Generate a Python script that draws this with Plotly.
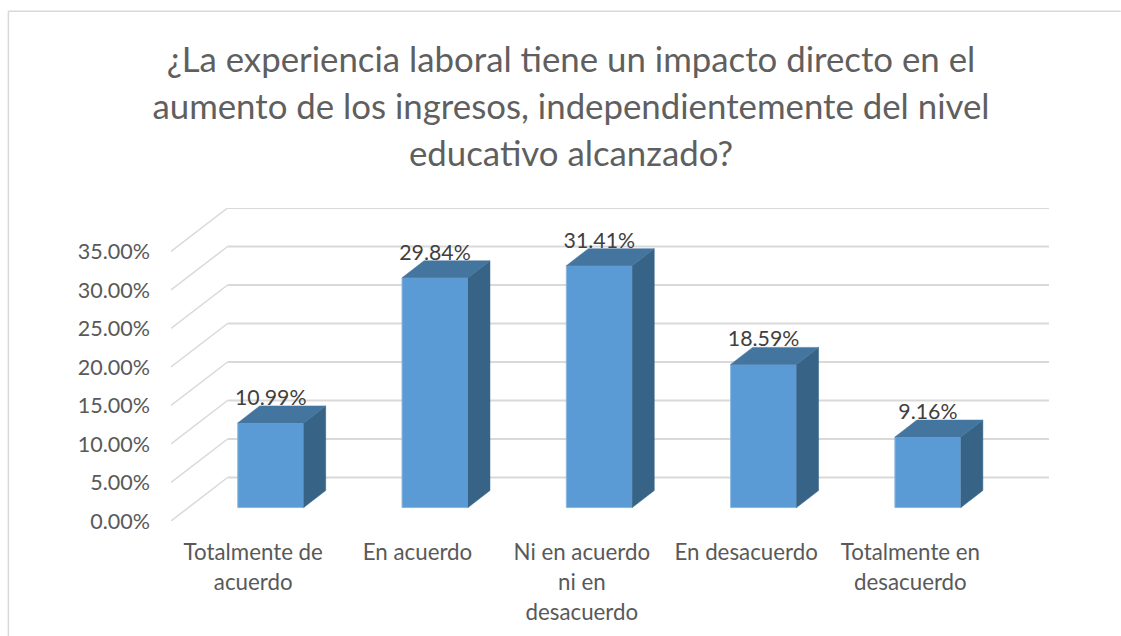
import plotly.graph_objects as go

categories = ["Totalmente de<br>acuerdo", "En acuerdo", "Ni en acuerdo<br>ni en<br>desacuerdo",
              "En desacuerdo", "Totalmente en<br>desacuerdo"]
values = [10.99, 29.84, 31.41, 18.59, 9.16]
y_ticks = [0, 5, 10, 15, 20, 25, 30, 35]
y_tick_labels = ["0.00%", "5.00%", "10.00%", "15.00%", "20.00%", "25.00%", "30.00%", "35.00%"]
title_lines = ["¿La experiencia laboral tiene un impacto directo en el",
               "aumento de los ingresos, independientemente del nivel",
               "educativo alcanzado?"]

W, H = 1121, 636
L, R, T, B = 170.7, 1049.3, 208.3, 520.7   # plot area in pixels
PX_PER_CAT = 164.4
PX_PER_PCT = 7.686
X0 = 270.5                                  # pixel of the first bar centre

def xu(px):
    return px / PX_PER_CAT

def yu(px):
    return px / PX_PER_PCT

x_range = [xu(L - X0), xu(R - X0)]
y_range = [0, yu(B - T)]
wall_dx, wall_dy = xu(56.6), yu(43.4)       # depth of the floor
bar_base = yu(13.4)
bar_dx, bar_dy = xu(22), yu(17)
bar_w = xu(66)
label_gap = yu(23.2)
tick_shift = xu(-17.5)

GRID = "#d9d9d9"
FRONT = "#5b9bd5"
SIDE = "#376387"
TOP = "#44759f"
FONT = "Lato"

fig = go.Figure()

xs = list(range(len(values)))
fig.add_trace(go.Bar(x=xs, y=values, base=bar_base, width=bar_w,
                     marker=dict(color=FRONT, line=dict(color="#8ab6e0", width=1)),
                     hoverinfo="skip", showlegend=False))

for i, v in zip(xs, values):
    xr = i + bar_w / 2
    xl = i - bar_w / 2
    top = bar_base + v
    fig.add_trace(go.Scatter(
        x=[xr, xr + bar_dx, xr + bar_dx, xr, xr],
        y=[bar_base, bar_base + bar_dy, top + bar_dy, top, bar_base],
        mode="lines", fill="toself", fillcolor=SIDE, line=dict(color=SIDE, width=0.5),
        hoverinfo="skip", showlegend=False))
    fig.add_trace(go.Scatter(
        x=[xl, xr, xr + bar_dx, xl + bar_dx, xl],
        y=[top, top, top + bar_dy, top + bar_dy, top],
        mode="lines", fill="toself", fillcolor=TOP, line=dict(color=TOP, width=0.5),
        hoverinfo="skip", showlegend=False))

fig.add_trace(go.Scatter(
    x=xs, y=[bar_base + v + label_gap for v in values],
    text=[f"{v:.2f}%" for v in values], mode="text", textposition="middle center",
    textfont=dict(family=FONT, size=21.3, color="#404040"),
    hoverinfo="skip", showlegend=False))

shapes = []
for t in y_ticks:
    shapes.append(dict(type="line", xref="x", yref="y", layer="below",
                       x0=x_range[0], y0=t, x1=x_range[0] + wall_dx, y1=t + wall_dy,
                       line=dict(color=GRID, width=1.5)))
    shapes.append(dict(type="line", xref="x", yref="y", layer="below",
                       x0=x_range[0] + wall_dx, y0=t + wall_dy, x1=x_range[1], y1=t + wall_dy,
                       line=dict(color=GRID, width=1.8)))

# chart frame: left and top edges only are visible
frame = [(8, 636, 8, 12), (8, 12, 1121, 12)]
for x0, y0, x1, y1 in frame:
    shapes.append(dict(type="line", xref="paper", yref="paper", layer="below",
                       x0=(x0 - L) / (R - L), x1=(x1 - L) / (R - L),
                       y0=(B - y0) / (B - T), y1=(B - y1) / (B - T),
                       line=dict(color="#d9d9d9", width=1.5)))

def sized(text, size):
    return "<br>".join(f'<span style="font-size:{size}px">{p}</span>' for p in text.split("<br>"))

fig.update_layout(
    width=W, height=H,
    margin=dict(l=L, r=W - R, t=T, b=H - B, pad=0),
    paper_bgcolor="white", plot_bgcolor="white",
    showlegend=False,
    shapes=shapes,
    font=dict(family=FONT, color="#595959"),
    title=dict(text=sized("<br>".join(title_lines), 34.8),
               font=dict(family=FONT, size=36, color="#5f5f5f"),
               x=571 / W, xanchor="center", y=1 - 72 / H, yanchor="middle"),
    xaxis=dict(range=x_range, tickmode="array",
               tickvals=[i + tick_shift for i in xs],
               ticktext=[sized(c, 22.3) for c in categories],
               tickfont=dict(family=FONT, size=23, color="#595959"),
               showgrid=False, zeroline=False, showline=False, ticks="", ticklabelstandoff=15),
    yaxis=dict(range=y_range, tickmode="array", tickvals=y_ticks, ticktext=y_tick_labels,
               tickfont=dict(family=FONT, size=21.5, color="#595959"),
               showgrid=False, zeroline=False, showline=False, ticks="", ticklabelstandoff=20),
)

fig.write_html("out.html", config=dict(displayModeBar=False),
               post_script="document.body.style.margin='0';")
